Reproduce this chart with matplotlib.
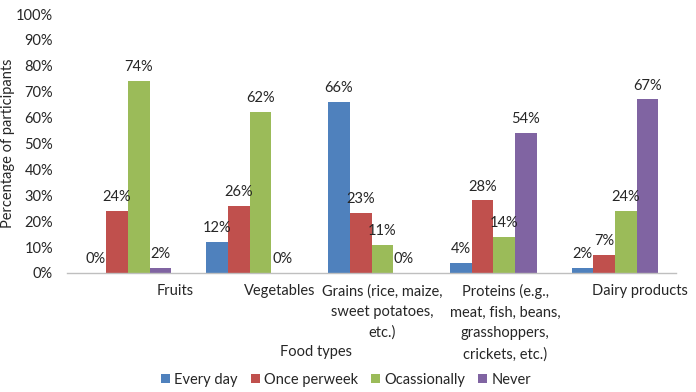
import numpy as np
import matplotlib
matplotlib.use("Agg")
import matplotlib.pyplot as plt
import matplotlib.transforms as mtransforms

plt.rcParams["font.family"] = ["Lato", "DejaVu Sans"]

categories = [
    "Fruits",
    "Vegetables",
    "Grains (rice, maize,\nsweet potatoes,\netc.)",
    "Proteins (e.g.,\nmeat, fish, beans,\ngrasshoppers,\ncrickets, etc.)",
    "Dairy products",
]
series_names = ["Every day", "Once perweek", "Ocassionally", "Never"]
every_day = [0, 12, 66, 4, 2]
once_perweek = [24, 26, 23, 28, 7]
ocassionally = [74, 62, 11, 14, 24]
never = [2, 0, 0, 54, 67]
yticks = list(range(0, 101, 10))

colors = ["#4F81BD", "#C0504D", "#9BBB59", "#8064A2"]
text_color = "#262626"

W, H = 696, 392
fig = plt.figure(figsize=(W / 100, H / 100), dpi=100)
ax = fig.add_axes([67 / W, 1 - 273 / H, (676 - 67) / W, (273 - 14) / H])

x = np.arange(len(categories))
width = 0.178
all_series = [every_day, once_perweek, ocassionally, never]
for i, (vals, name, c) in enumerate(zip(all_series, series_names, colors)):
    pos = x + (i - 1.5) * width
    bars = ax.bar(pos, vals, width, color=c, label=name)
    for b, v in zip(bars, vals):
        ax.annotate(f"{v}%", (b.get_x() + b.get_width() / 2, v),
                    xytext=(0, 5), textcoords="offset points",
                    ha="center", va="bottom", fontsize=10.5, color=text_color)

ax.set_xlim(-0.5, len(categories) - 0.5)
ax.set_ylim(0, 100)
ax.set_yticks(yticks)
ax.set_yticklabels([f"{t}%" for t in yticks], fontsize=10.5, color=text_color)
ax.set_xticks(x)
ax.set_xticklabels(categories, fontsize=10.5, color=text_color, linespacing=1.6)
ax.tick_params(axis="both", length=0)
ax.tick_params(axis="x", pad=8)
ax.tick_params(axis="y", pad=10)

# Excel placed the category labels off-centre; shift them to match
label_shift_px = [47, 30, 11, 12, 25]
for lab, dx in zip(ax.get_xticklabels(), label_shift_px):
    lab.set_transform(lab.get_transform() +
                      mtransforms.ScaledTranslation(dx / 100, 0, fig.dpi_scale_trans))

for s in ["top", "right", "left"]:
    ax.spines[s].set_visible(False)
ax.spines["bottom"].set_color("#BFBFBF")
ax.spines["bottom"].set_linewidth(1.0)

fig.text(8 / W, 1 - 143 / H, "Percentage of participants", rotation=90,
         ha="center", va="center", fontsize=10.5, color=text_color)
fig.text(316 / W, 1 - 352 / H, "Food types", ha="center", va="center",
         fontsize=10.5, color=text_color)

fig.legend(loc="center", bbox_to_anchor=(346 / W, 1 - 380 / H), ncol=4,
           frameon=False, fontsize=10.5, handlelength=0.6, handleheight=0.6,
           handletextpad=0.3, columnspacing=0.9, labelcolor=text_color)

fig.savefig("out.png", dpi=100)
